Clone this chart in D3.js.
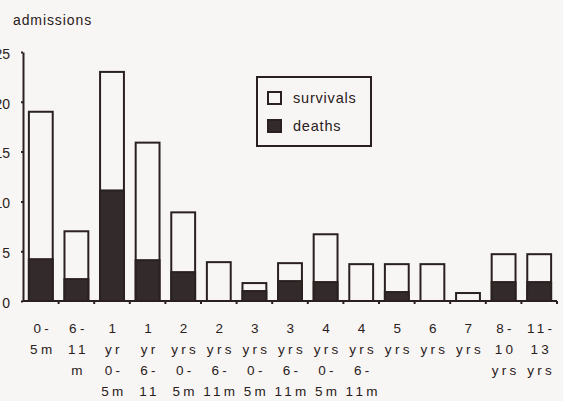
<!DOCTYPE html>
<html>
<head>
<meta charset="utf-8">
<script src="https://cdn.jsdelivr.net/npm/d3@7"></script>
<style>
  html, body { margin: 0; padding: 0; background: #f8f6f4; }
  svg { display: block; }
  text { font-family: "Liberation Sans", Arial, Helvetica, sans-serif; fill: #2a2020; }
</style>
</head>
<body>
<svg id="chart" width="563" height="401"></svg>
<script>
// Category labels (multi-line)
const categories = [
  ["0-", "5m"],
  ["6-", "11", "m"],
  ["1", "yr", "0-", "5m"],
  ["1", "yr", "6-", "11"],
  ["2", "yrs", "0-", "5m"],
  ["2", "yrs", "6-", "11m"],
  ["3", "yrs", "0-", "5m"],
  ["3", "yrs", "6-", "11m"],
  ["4", "yrs", "0-", "5m"],
  ["4", "yrs", "6-", "11m"],
  ["5", "yrs"],
  ["6", "yrs"],
  ["7", "yrs"],
  ["8-", "10", "yrs"],
  ["11-", "13", "yrs"]
];
const deaths =    [4.2, 2.2, 11.1, 4.1, 2.9, 0,   1.0, 2.0, 1.9, 0,   0.9, 0,   0,   1.9, 1.9];
const survivals = [14.8, 4.8, 11.9, 11.8, 6.0, 3.9, 0.8, 1.8, 4.8, 3.7, 2.8, 3.7, 0.8, 2.8, 2.8];
const yTicks = [0, 5, 10, 15, 20, 25];
const yLabel = "admissions";
const legendItems = ["survivals", "deaths"];

const ink = "#2a2020";
const deathFill = "#332b2b";
const bg = "#f8f6f4";

const svg = d3.select("#chart");

const x = d3.scaleBand()
  .domain(d3.range(categories.length))
  .range([23, 557])
  .paddingInner(0.33)
  .paddingOuter(0.165);
const y = d3.scaleLinear().domain([0, 25]).range([301, 52]);

// y axis title
svg.append("text")
  .attr("x", 13).attr("y", 25)
  .attr("font-size", 14)
  .attr("letter-spacing", 0.9)
  .text(yLabel);

// bars
const g = svg.append("g");
categories.forEach((c, i) => {
  const total = deaths[i] + survivals[i];
  g.append("rect")
    .attr("x", x(i)).attr("width", x.bandwidth())
    .attr("y", y(total)).attr("height", y(0) - y(total))
    .attr("fill", bg).attr("stroke", ink).attr("stroke-width", 2);
  if (deaths[i] > 0) {
    g.append("rect")
      .attr("x", x(i)).attr("width", x.bandwidth())
      .attr("y", y(deaths[i])).attr("height", y(0) - y(deaths[i]))
      .attr("fill", deathFill).attr("stroke", ink).attr("stroke-width", 2);
  }
});

// y axis
const yAxis = d3.axisLeft(y).tickValues(yTicks).tickSize(2).tickPadding(11).tickSizeOuter(0);
const ya = svg.append("g").attr("transform", "translate(23,0)").call(yAxis);
ya.select(".domain").attr("stroke", ink).attr("stroke-width", 2);
ya.selectAll(".tick line").attr("stroke", ink).attr("stroke-width", 2);
ya.selectAll(".tick text")
  .attr("font-size", 14)
  .attr("fill", ink)
  .attr("font-family", "Liberation Sans, Arial, sans-serif")
  .attr("dy", "0.45em");

// x axis line and ticks at band boundaries
const step = x.step();
svg.append("line")
  .attr("x1", x.range()[0]).attr("x2", x.range()[1])
  .attr("y1", y(0)).attr("y2", y(0))
  .attr("stroke", ink).attr("stroke-width", 2);
categories.forEach((c, i) => {
  const bx = x(i) + x.bandwidth() + step * 0.165;
  svg.append("line")
    .attr("x1", bx).attr("x2", bx)
    .attr("y1", y(0)).attr("y2", y(0) + 3)
    .attr("stroke", ink).attr("stroke-width", 2);
});

// x labels
const lineYs = [333, 354, 375, 396];
categories.forEach((c, i) => {
  const cx = x(i) + x.bandwidth() / 2 + 2;
  c.forEach((line, j) => {
    svg.append("text")
      .attr("x", cx).attr("y", lineYs[j])
      .attr("text-anchor", "middle")
      .attr("font-size", 13.5)
      .attr("letter-spacing", 3.3)
      .text(line);
  });
});

// legend
const lg = svg.append("g");
lg.append("rect")
  .attr("x", 257).attr("y", 77).attr("width", 114).attr("height", 69)
  .attr("fill", bg).attr("stroke", ink).attr("stroke-width", 2);
const legendFills = [bg, deathFill];
const legendYs = [98, 126];
legendItems.forEach((name, i) => {
  lg.append("rect")
    .attr("x", 268).attr("y", legendYs[i] - 6).attr("width", 13).attr("height", 12)
    .attr("fill", legendFills[i]).attr("stroke", ink).attr("stroke-width", 2);
  lg.append("text")
    .attr("x", 293).attr("y", legendYs[i] + 5)
    .attr("font-size", 14.5)
    .attr("letter-spacing", 0.8)
    .text(name);
});
</script>
</body>
</html>
